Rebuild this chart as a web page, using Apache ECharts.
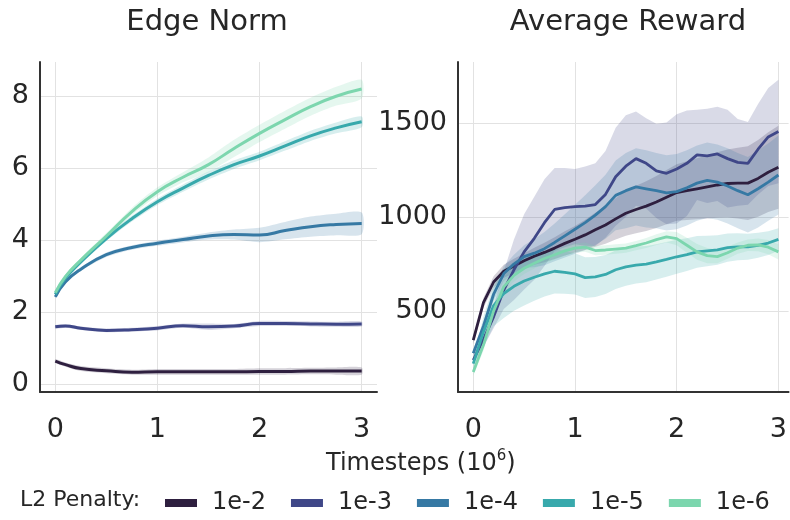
<!DOCTYPE html>
<html>
<head>
<meta charset="utf-8">
<script src="https://cdn.jsdelivr.net/npm/echarts@6/dist/echarts.min.js"></script>
<style>html,body{margin:0;padding:0;background:#fff}#c{width:790px;height:520px}</style>
</head>
<body>
<div id="c"></div>
<script>
// ---------- data ----------
const seriesNames = ['1e-2', '1e-3', '1e-4', '1e-5', '1e-6'];
const colors = ['#2e1f3f', '#3f4788', '#3679a4', '#38a9ac', '#7cd6ae'];
const xTicks = [0, 1, 2, 3];
const edgeTicks = [0, 2, 4, 6, 8];
const rewardTicks = [500, 1000, 1500];

// Edge Norm (left panel)
const edgeX = [0, 0.1, 0.25, 0.5, 0.75, 1, 1.25, 1.5, 1.75, 2, 2.25, 2.5, 2.75, 3];
const edge_1e2 = [0.65, 0.55, 0.44, 0.38, 0.34, 0.35, 0.35, 0.35, 0.35, 0.36, 0.36, 0.37, 0.37, 0.37];
const edge_1e3 = [1.60, 1.62, 1.56, 1.50, 1.52, 1.56, 1.63, 1.60, 1.62, 1.69, 1.69, 1.68, 1.67, 1.68];
const edge_1e4 = [2.43, 2.85, 3.20, 3.60, 3.80, 3.92, 4.02, 4.12, 4.16, 4.15, 4.27, 4.38, 4.44, 4.47];
const edge_1e5 = [2.50, 2.95, 3.40, 4.05, 4.60, 5.07, 5.45, 5.80, 6.10, 6.34, 6.62, 6.90, 7.12, 7.29];
const edge_1e6 = [2.55, 3.00, 3.45, 4.12, 4.80, 5.35, 5.75, 6.10, 6.55, 6.97, 7.35, 7.71, 8.00, 8.20];
const edgeSpread_1e2 = [0.05, 0.06, 0.07, 0.07, 0.07, 0.08, 0.08, 0.08, 0.08, 0.09, 0.09, 0.09, 0.1, 0.1];
const edgeSpread_1e3 = [0.05, 0.05, 0.05, 0.05, 0.05, 0.06, 0.06, 0.09, 0.06, 0.07, 0.07, 0.07, 0.07, 0.07];
const edgeSpread_1e4 = [0.04, 0.05, 0.05, 0.06, 0.06, 0.07, 0.08, 0.1, 0.14, 0.2, 0.24, 0.28, 0.3, 0.3];
const edgeSpread_1e5 = [0.04, 0.05, 0.06, 0.07, 0.08, 0.09, 0.1, 0.11, 0.12, 0.12, 0.13, 0.14, 0.15, 0.15];
const edgeSpread_1e6 = [0.04, 0.05, 0.06, 0.08, 0.1, 0.12, 0.14, 0.2, 0.24, 0.24, 0.25, 0.25, 0.26, 0.26];

// Average Reward (right panel)
const rewX = [0, 0.1, 0.2, 0.3, 0.4, 0.5, 0.6, 0.7, 0.8, 0.9, 1.0, 1.1, 1.2, 1.3, 1.4, 1.5,
              1.6, 1.7, 1.8, 1.9, 2.0, 2.1, 2.2, 2.3, 2.4, 2.5, 2.6, 2.7, 2.8, 2.9, 3.0];
const rew_1e2 = [346, 545, 655, 712, 740, 768, 792, 812, 835, 860, 882, 905, 932, 958, 990, 1020,
                 1040, 1058, 1080, 1105, 1130, 1140, 1150, 1160, 1170, 1178, 1180, 1180, 1205, 1238, 1264];
const rew_1e3 = [240, 350, 470, 612, 720, 815, 887, 970, 1040, 1050, 1055, 1058, 1066, 1120, 1214, 1270,
                 1310, 1285, 1245, 1232, 1255, 1285, 1330, 1325, 1335, 1310, 1290, 1285, 1360, 1425, 1454];
const rew_1e4 = [277, 420, 590, 700, 750, 790, 808, 832, 865, 900, 935, 970, 1010, 1055, 1115, 1140,
                 1160, 1150, 1140, 1128, 1135, 1155, 1180, 1195, 1185, 1165, 1140, 1118, 1150, 1185, 1223];
const rew_1e5 = [222, 390, 530, 594, 632, 660, 680, 698, 712, 706, 698, 678, 682, 695, 720, 735,
                 745, 750, 762, 775, 789, 800, 815, 820, 825, 838, 842, 842, 850, 862, 881];
const rew_1e6 = [177, 320, 500, 629, 690, 728, 755, 780, 800, 820, 835, 840, 822, 825, 830, 835,
                 848, 862, 880, 895, 885, 850, 815, 795, 790, 810, 835, 850, 852, 840, 815];
const rewSpread_1e2 = [20, 25, 30, 35, 38, 40, 45, 52, 58, 64, 70, 80, 90, 100, 110, 120,
                       126, 132, 138, 144, 150, 156, 162, 168, 174, 180, 188, 196, 204, 212, 220];
const rewSpread_1e3 = [20, 40, 60, 100, 160, 200, 220, 230, 220, 210, 200, 210, 220, 230, 260, 270,
                       250, 240, 250, 270, 290, 280, 240, 250, 250, 260, 230, 220, 240, 260, 275];
const rewSpread_1e4 = [20, 25, 32, 40, 50, 60, 75, 88, 100, 115, 130, 145, 158, 170, 185, 200,
                       205, 205, 200, 200, 200, 200, 200, 200, 200, 200, 200, 200, 205, 205, 210];
const rewSpread_1e5 = [30, 80, 110, 130, 130, 130, 125, 120, 118, 114, 110, 108, 106, 104, 102, 100,
                       98, 96, 94, 92, 90, 87, 84, 81, 78, 75, 72, 69, 66, 63, 60];
const rewSpread_1e6 = [20, 30, 35, 35, 32, 30, 28, 26, 25, 25, 25, 25, 25, 25, 25, 25,
                       25, 26, 28, 30, 35, 40, 42, 40, 36, 32, 30, 30, 34, 38, 40];

// ---------- build ----------
const edgeMeans = [edge_1e2, edge_1e3, edge_1e4, edge_1e5, edge_1e6];
const edgeSpreads = [edgeSpread_1e2, edgeSpread_1e3, edgeSpread_1e4, edgeSpread_1e5, edgeSpread_1e6];
const rewMeans = [rew_1e2, rew_1e3, rew_1e4, rew_1e5, rew_1e6];
const rewSpreads = [rewSpread_1e2, rewSpread_1e3, rewSpread_1e4, rewSpread_1e5, rewSpread_1e6];

const FONT = 'DejaVu Sans';
const TXT = '#262626';

function band(axisIdx, xs, mean, spread, color, smooth) {
  return {
    type: 'custom', xAxisIndex: axisIdx, yAxisIndex: axisIdx, silent: true, z: 1,
    clip: true,
    data: [[xs[0], mean[0]]],
    renderItem: function (params, api) {
      const pts = [];
      for (let i = 0; i < xs.length; i++) pts.push(api.coord([xs[i], mean[i] + spread[i]]));
      for (let i = xs.length - 1; i >= 0; i--) pts.push(api.coord([xs[i], mean[i] - spread[i]]));
      return { type: 'polygon', shape: { points: pts, smooth: smooth }, style: { fill: color, opacity: 0.2 } };
    }
  };
}
function line(axisIdx, name, xs, mean, color, smooth, width) {
  return {
    type: 'line', name: name, xAxisIndex: axisIdx, yAxisIndex: axisIdx, z: 3,
    data: xs.map((x, i) => [x, mean[i]]), showSymbol: false, symbol: 'none', smooth: smooth,
    lineStyle: { color: color, width: width }, itemStyle: { color: color }, animation: false
  };
}

const series = [];
for (let k = 0; k < 5; k++) series.push(band(0, edgeX, edgeMeans[k], edgeSpreads[k], colors[k], 0.25));
for (let k = 0; k < 5; k++) series.push(band(1, rewX, rewMeans[k], rewSpreads[k], colors[k], 0));
for (let k = 0; k < 5; k++) series.push(line(0, seriesNames[k], edgeX, edgeMeans[k], colors[k], true, 3));
for (let k = 0; k < 5; k++) series.push(line(1, seriesNames[k], rewX, rewMeans[k], colors[k], false, 2.8));

function xAxis(gi, max) {
  return {
    type: 'value', gridIndex: gi, min: -0.15, max: max,
    axisLine: { show: true, onZero: false, lineStyle: { color: '#333', width: 2 } },
    axisTick: { show: false, customValues: xTicks },
    axisLabel: { customValues: xTicks, fontSize: 27, color: TXT, fontFamily: FONT, margin: 24 },
    splitLine: { show: true, lineStyle: { color: '#e2e2e2', width: 1 } }
  };
}
function yAxis(gi, min, max, ticks) {
  return {
    type: 'value', gridIndex: gi, min: min, max: max,
    axisLine: { show: true, onZero: false, lineStyle: { color: '#333', width: 2 } },
    axisTick: { show: false, customValues: ticks },
    axisLabel: { customValues: ticks, fontSize: 27, color: TXT, fontFamily: FONT, margin: 11,
                 formatter: v => String(v) },
    splitLine: { show: true, lineStyle: { color: '#e2e2e2', width: 1 } }
  };
}

const option = {
  animation: false,
  backgroundColor: '#fff',
  textStyle: { fontFamily: FONT },
  title: [
    { text: 'Edge Norm', left: 202, top: 3, textAlign: 'center',
      textStyle: { fontSize: 29, fontWeight: 'normal', color: TXT, fontFamily: FONT } },
    { text: 'Average Reward', left: 623, top: 3, textAlign: 'center',
      textStyle: { fontSize: 29, fontWeight: 'normal', color: TXT, fontFamily: FONT } }
  ],
  grid: [
    { left: 40, top: 62, width: 337, height: 330 },
    { left: 458, top: 62, width: 332, height: 330 }
  ],
  xAxis: [xAxis(0, 3.15), xAxis(1, 3.1)],
  yAxis: [yAxis(0, -0.21, 8.95, edgeTicks), yAxis(1, 71, 1823, rewardTicks)],
  legend: {
    data: seriesNames, left: 160, top: 486, icon: 'rect', itemWidth: 32, itemHeight: 8,
    itemGap: 25, textStyle: { fontSize: 24, color: TXT, fontFamily: FONT, padding: [0, 0, 0, 10] }
  },
  graphic: [
    { type: 'text', left: 20, top: 489,
      style: { text: 'L2 Penalty:', fontSize: 22, fill: TXT, fontFamily: FONT } },
    { type: 'text', left: 326, top: 449,
      style: { text: '{a|Timesteps (10}{b|6}{a|)}', fill: TXT, fontFamily: FONT,
        rich: { a: { fontSize: 24, fontFamily: FONT, fill: TXT, lineHeight: 30 },
                b: { fontSize: 15, fontFamily: FONT, fill: TXT, verticalAlign: 'top', lineHeight: 30 } } } }
  ],
  series: series
};

const chart = echarts.init(document.getElementById('c'), null, { renderer: 'canvas' });
chart.setOption(option);
</script>
</body>
</html>
